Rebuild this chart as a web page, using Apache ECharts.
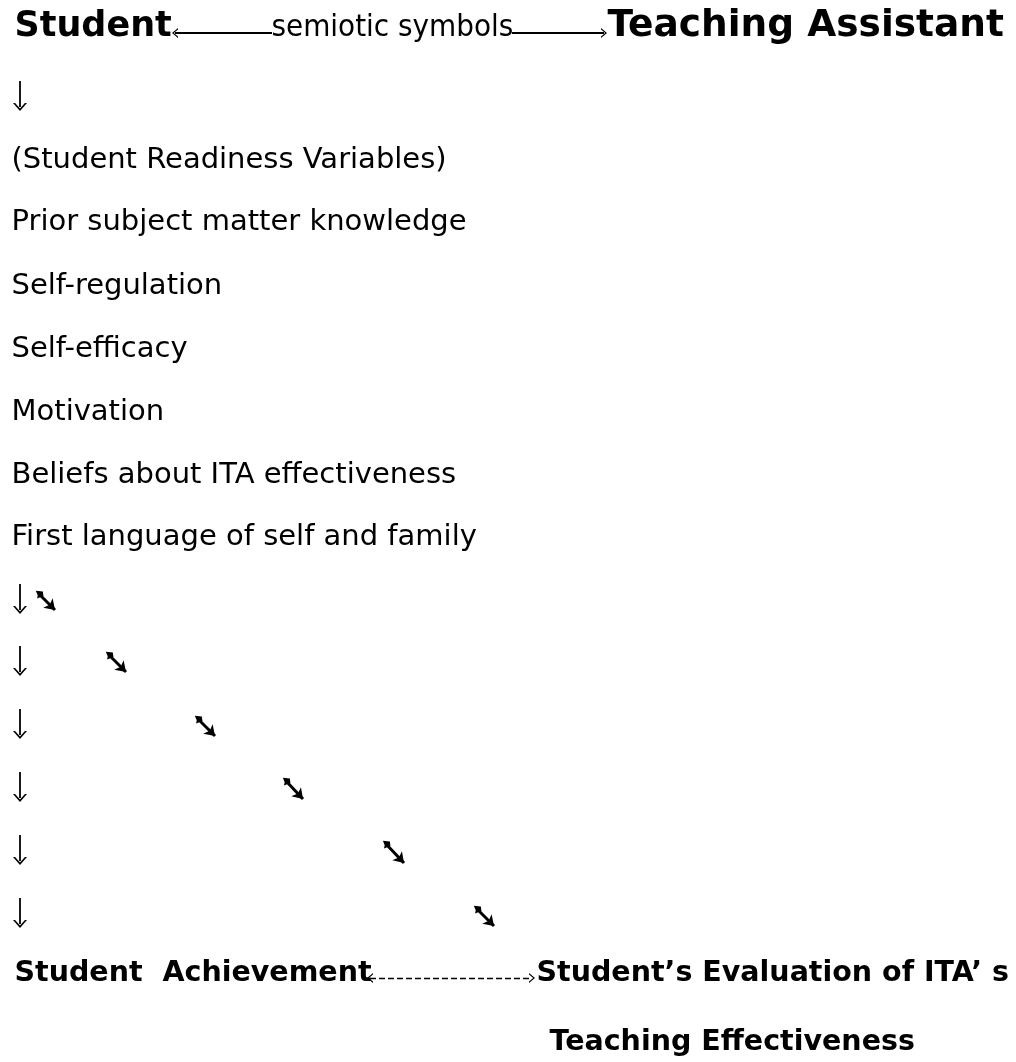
<!doctype html>
<html lang="en">
<head>
    <meta charset="UTF-8">
    <title>student ita model</title>
    <style>
        html, body{margin:0; padding:0; background:#fff;}
        #chart{width:1016px; height:1062px;}
    </style>
</head>
<body>
<div id="chart"></div>
<script src="https://cdn.jsdelivr.net/npm/echarts@6/dist/echarts.min.js"></script>
<script>
    // diagram is laid out on a hidden value grid, 1 unit = 1 px
    var headingText = ['Student', 'Teaching Assistant'];
    var headingX = [15, 608];
    var headingY = [27, 27];

    var linkText = ['semiotic symbols'];
    var linkX = [272];
    var linkY = [28];
    var linkLeftArrow = [[272, 33], [175, 33]];
    var linkRightArrow = [[512, 33], [604, 33]];

    var variableNames = [
        '(Student Readiness Variables)',
        'Prior subject matter knowledge',
        'Self-regulation',
        'Self-efficacy',
        'Motivation',
        'Beliefs about ITA effectiveness',
        'First language of self and family'
    ];
    var variableX = 12;
    var variableY = [161, 223, 287, 350, 413, 476, 538];

    var downArrowX = 20;
    var downArrowY = [94, 597, 659, 722, 785, 848, 911];

    var diagTail = [[39, 594], [109, 655], [198, 719], [286, 781], [386, 844], [477, 909]];
    var diagHead = [[55, 610], [126, 672], [215, 736], [303, 799], [404, 863], [494, 926]];

    var outcomeText = ['Student  Achievement', 'Student\u2019s Evaluation of ITA\u2019 s', 'Teaching Effectiveness'];
    var outcomeX = [15, 537, 550];
    var outcomeY = [974, 974, 1043];
    var outcomeArrow = [[370, 978], [532, 978]];

    var chevron = 'path://M0,10 L10,0 L20,10 L17,10 L10,3 L3,10 Z';
    var fletch = 'path://M10,0 L20,12 L14,20 L0,14 L6,10 Z';

    function points(xs, ys, texts) {
        return texts.map(function (t, i) {
            return [Array.isArray(xs) ? xs[i] : xs, ys[i], t];
        });
    }

    function textSeries(data, font) {
        var style = {
            color: '#000',
            opacity: 1,
            fontFamily: font.family,
            fontSize: font.size,
            fontWeight: font.weight || 'normal'
        };
        return {
            type: 'scatter',
            silent: true,
            symbolSize: 1,
            itemStyle: {color: 'rgba(0,0,0,0)'},
            data: data,
            label: Object.assign({
                show: true,
                position: [0, 0],
                align: 'left',
                verticalAlign: 'middle',
                formatter: function (p) { return '{t|' + p.value[2] + '}'; },
                rich: {t: style}
            }, style)
        };
    }

    // symbolSize is [startSize, endSize], each one [w, h]
    function arrowSeries(data, opts) {
        return {
            type: 'lines',
            coordinateSystem: 'cartesian2d',
            silent: true,
            symbol: opts.symbol,
            symbolSize: opts.symbolSize,
            itemStyle: {color: '#000', opacity: 1},
            lineStyle: {color: '#000', width: opts.width, opacity: 1, type: opts.type || 'solid', curveness: 0},
            data: data.map(function (c) { return {coords: c}; })
        };
    }

    var headingData = points(headingX, headingY, headingText);
    headingData[0] = {value: headingData[0], label: {rich: {t: {fontSize: 35}}}};

    var downArrows = downArrowY.map(function (y) {
        return [[downArrowX, y - 13], [downArrowX, y + 13]];
    });
    var diagArrows = diagTail.map(function (t, i) { return [t, diagHead[i]]; });

    var chart = echarts.init(document.getElementById('chart'));
    chart.setOption({
        animation: false,
        backgroundColor: '#fff',
        textStyle: {color: '#000'},
        grid: {left: 0, right: 0, top: 0, bottom: 0},
        xAxis: {type: 'value', min: 0, max: 1016, show: false},
        yAxis: {type: 'value', min: 0, max: 1062, inverse: true, show: false},
        series: [
            textSeries(headingData, {family: 'DejaVu Sans', size: 37.5, weight: 'bold'}),
            textSeries(points(linkX, linkY, linkText), {family: '"Liberation Sans Narrow", "DejaVu Sans Condensed", "Liberation Sans"', size: 31}),
            textSeries(points(variableX, variableY, variableNames), {family: 'DejaVu Sans', size: 29}),
            textSeries(points(outcomeX, outcomeY, outcomeText), {family: 'DejaVu Sans', size: 28.5, weight: 'bold'}),
            arrowSeries([linkLeftArrow, linkRightArrow], {symbol: ['none', chevron], symbolSize: [[1, 1], [10, 6]], width: 1.8}),
            arrowSeries(downArrows, {symbol: ['none', chevron], symbolSize: [[1, 1], [14, 8]], width: 1.8}),
            arrowSeries(diagArrows, {symbol: [fletch, 'arrow'], symbolSize: [[9, 9], [10, 10]], width: 3}),
            arrowSeries([outcomeArrow], {symbol: [chevron, chevron], symbolSize: [[10, 6], [10, 6]], width: 1.4, type: [6, 3]})
        ]
    });
</script>
</body>
</html>
